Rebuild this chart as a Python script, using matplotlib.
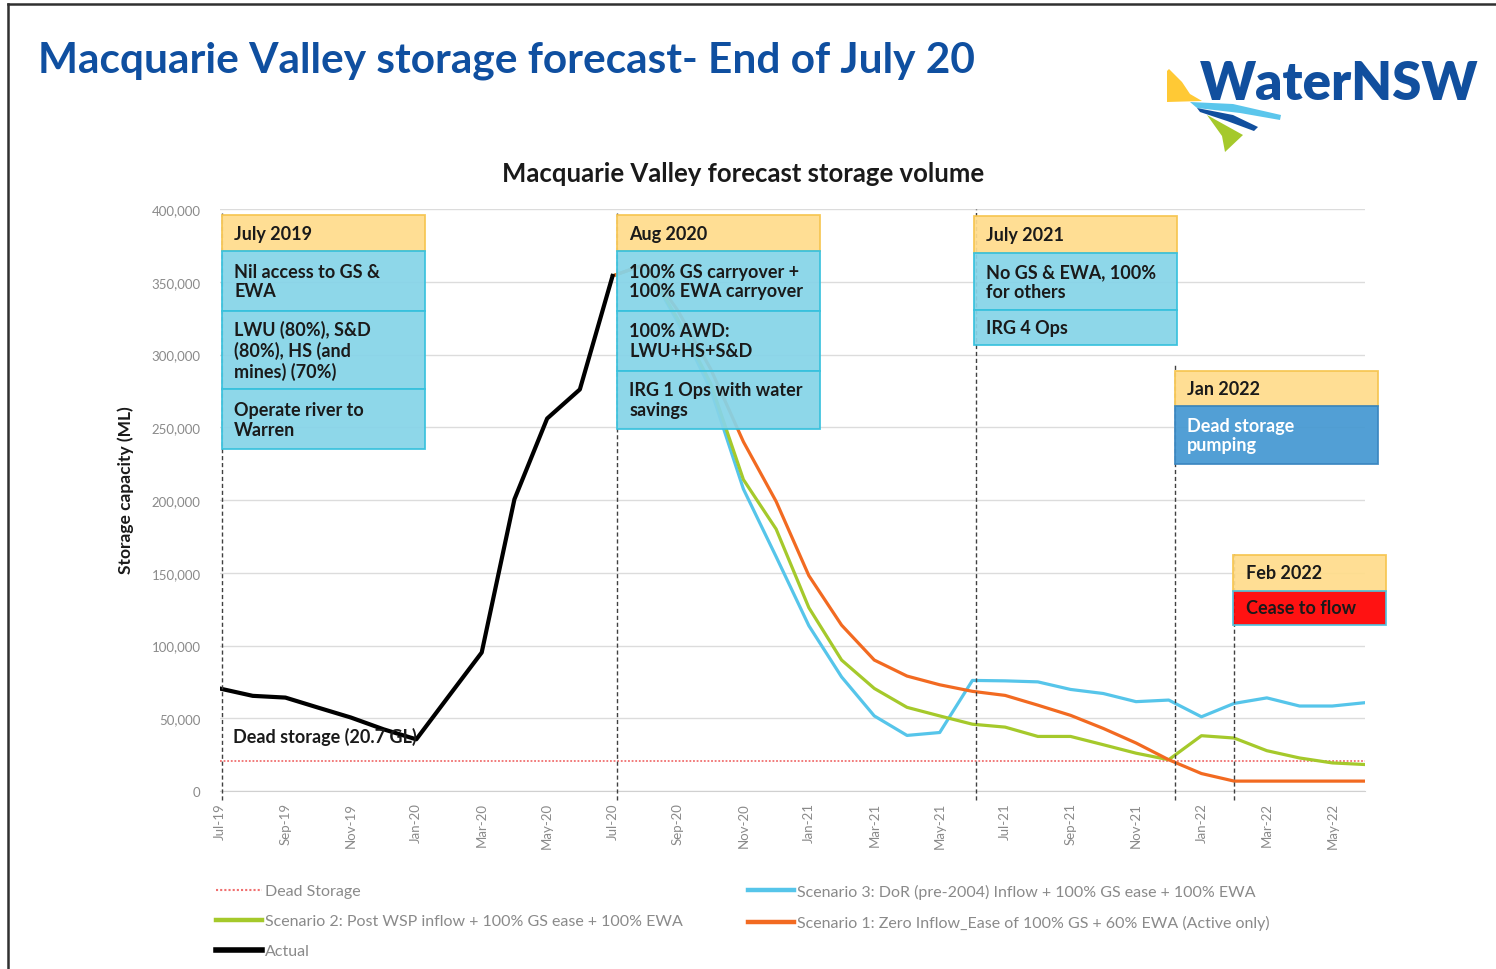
import matplotlib.pyplot as plt
from matplotlib.patches import Rectangle, Polygon
from matplotlib.lines import Line2D

plt.rcParams['font.family'] = ['Lato', 'DejaVu Sans']

W, H = 1496, 970

# month labels, Jul-19 .. Jun-22
months = ['Jul-19', 'Aug-19', 'Sep-19', 'Oct-19', 'Nov-19', 'Dec-19',
          'Jan-20', 'Feb-20', 'Mar-20', 'Apr-20', 'May-20', 'Jun-20',
          'Jul-20', 'Aug-20', 'Sep-20', 'Oct-20', 'Nov-20', 'Dec-20',
          'Jan-21', 'Feb-21', 'Mar-21', 'Apr-21', 'May-21', 'Jun-21',
          'Jul-21', 'Aug-21', 'Sep-21', 'Oct-21', 'Nov-21', 'Dec-21',
          'Jan-22', 'Feb-22', 'Mar-22', 'Apr-22', 'May-22', 'Jun-22']

# storage volume (ML)
actual = [70400, 65400, 64200, 57300, 50500, 42400, 35500, 65400, 95200,
          200500, 256000, 276000, 354000]
# forecasts start at Jul-20
scenario_1 = [354000, 362000, 330000, 290000, 240000, 199000, 148000, 114000,
              90000, 79000, 73000, 68500, 65700, 59000, 52000, 43000, 33000,
              21500, 12000, 6800, 6800, 6800, 6800, 6800]
scenario_2 = [354000, 362000, 324000, 280000, 214000, 180000, 126000, 90000,
              70500, 57500, 51600, 45900, 43900, 37500, 37500, 31800, 26000,
              21500, 38000, 36400, 27700, 22700, 19300, 18200]
scenario_3 = [354000, 362000, 322000, 276000, 207500, 161000, 113600, 78400,
              51600, 38200, 40200, 76000, 75700, 75000, 69800, 67000, 61400,
              62500, 51000, 60200, 64000, 58400, 58400, 60700]
dead_storage = 20700

fc_start = 12  # index of Jul-20

c_s1 = '#F26A21'
c_s2 = '#A5C92B'
c_s3 = '#56C5EA'
c_dead = '#F07070'
dotted = (0, (1, 1))

fig = plt.figure(figsize=(W / 100, H / 100), dpi=100)
ax = fig.add_axes([220 / W, 1 - 792 / H, (1365 - 220) / W, (792 - 210) / H])

x_act = list(range(len(actual)))
x_fc = list(range(fc_start, fc_start + len(scenario_1)))

ax.axhline(dead_storage, color=c_dead, lw=1.3, ls=dotted, zorder=2)
ax.plot(x_fc, scenario_3, color=c_s3, lw=2.3, zorder=3)
ax.plot(x_fc, scenario_2, color=c_s2, lw=2.3, zorder=3)
ax.plot(x_fc, scenario_1, color=c_s1, lw=2.3, zorder=3)
ax.plot(x_act, actual, color='black', lw=3, zorder=4)

ax.set_xlim(0, len(months) - 1)
ax.set_ylim(0, 400000)
ax.set_yticks(range(0, 400001, 50000))
ax.set_yticklabels([f'{v:,}' for v in range(0, 400001, 50000)])
ax.set_xticks(range(0, len(months), 2))
ax.set_xticklabels(months[::2], rotation=90)
ax.tick_params(axis='both', colors='#8a8a8a', labelsize=9.5, length=0)
ax.tick_params(axis='x', pad=8)
ax.tick_params(axis='y', pad=14)
ax.grid(axis='y', color='#dcdcdc', lw=1)
ax.set_axisbelow(True)
for s in ['left', 'right', 'top']:
    ax.spines[s].set_visible(False)
ax.spines['bottom'].set_color('#d0d0d0')

# event markers
event_x = [0.05, 12.15, 23.1, 29.2, 31.0]
event_top = [397000, 397000, 400000, 293000, 163000]
for ex, et in zip(event_x, event_top):
    ax.plot([ex, ex], [-6000, et], color='#404040', lw=1, ls=(0, (3, 2)),
            zorder=5, clip_on=False)


def cell(x0, x1, y_top, y_bot, text, face, edge, color='#1a1a1a'):
    ax.add_patch(Rectangle((x0, y_bot), x1 - x0, y_top - y_bot, facecolor=face,
                           edgecolor=edge, lw=1.3, zorder=6, clip_on=False,
                           alpha=0.93))
    ax.text(x0 + 0.37, (y_top + y_bot) / 2, text, ha='left', va='center',
            fontsize=13, fontweight='bold', color=color, zorder=7,
            clip_on=False, linespacing=1.2)


head_face, head_edge = '#FFDC8C', '#F6C550'
blue_face, blue_edge = '#86D4E8', '#36C1DD'

# July 2019
cell(0.06, 6.27, 396000, 371000, 'July 2019', head_face, head_edge)
cell(0.06, 6.27, 371000, 330000, 'Nil access to GS &\nEWA', blue_face, blue_edge)
cell(0.06, 6.27, 330000, 276000, 'LWU (80%), S&D\n(80%), HS (and\nmines) (70%)',
     blue_face, blue_edge)
cell(0.06, 6.27, 276000, 235000, 'Operate river to\nWarren', blue_face, blue_edge)
# Aug 2020
cell(12.14, 18.35, 396000, 371000, 'Aug 2020', head_face, head_edge)
cell(12.14, 18.35, 371000, 330000, '100% GS carryover +\n100% EWA carryover',
     blue_face, blue_edge)
cell(12.14, 18.35, 330000, 289000, '100% AWD:\nLWU+HS+S&D', blue_face, blue_edge)
cell(12.14, 18.35, 289000, 249000, 'IRG 1 Ops with water\nsavings',
     blue_face, blue_edge)
# July 2021
cell(23.06, 29.24, 395000, 370000, 'July 2021', head_face, head_edge)
cell(23.06, 29.24, 370000, 330500, 'No GS & EWA, 100%\nfor others',
     blue_face, blue_edge)
cell(23.06, 29.24, 330500, 306500, 'IRG 4 Ops', blue_face, blue_edge)
# Jan 2022
cell(29.2, 35.4, 288700, 264600, 'Jan 2022', head_face, head_edge)
cell(29.2, 35.4, 264600, 224700, 'Dead storage\npumping', '#4598D2', '#3A86C0',
     color='white')
# Feb 2022
cell(30.98, 35.63, 162200, 137500, 'Feb 2022', head_face, head_edge)
cell(30.98, 35.63, 137500, 114100, 'Cease to flow', '#FF0000', '#4FC3DE')

ax.text(0.4, 38000, 'Dead storage (20.7 GL)', fontsize=13, fontweight='bold',
        color='#1a1a1a', va='center', ha='left', zorder=8)

# titles
fig.text(38 / W, 1 - 61 / H, 'Macquarie Valley storage forecast- End of July 20',
         fontsize=30.5, fontweight='bold', color='#0F4FA0', va='center',
         ha='left')
fig.text(743 / W, 1 - 174 / H, 'Macquarie Valley forecast storage volume',
         fontsize=18.5, fontweight='bold', color='#1a1a1a', va='center',
         ha='center')
fig.text(126 / W, 1 - 490 / H, 'Storage capacity (ML)', fontsize=12.5,
         fontweight='bold', color='#1a1a1a', rotation=90, va='center',
         ha='center')

# legend, two blocks
legend_left = [
    ('Dead Storage', c_dead, 1.5, dotted),
    ('Scenario 2: Post WSP inflow + 100% GS ease + 100% EWA', c_s2, 3.2, '-'),
    ('Actual', 'black', 4, '-'),
]
legend_right = [
    ('Scenario 3: DoR (pre-2004) Inflow + 100% GS ease + 100% EWA', c_s3, 3.2,
     '-'),
    ('Scenario 1: Zero Inflow_Ease of 100% GS + 60% EWA (Active only)', c_s1,
     3.2, '-'),
]
for entries, x0 in [(legend_left, 216), (legend_right, 748)]:
    handles = [Line2D([], [], color=c, lw=lw, ls=ls) for _, c, lw, ls in entries]
    fig.legend(handles, [e[0] for e in entries], loc='upper left',
               bbox_to_anchor=(x0 / W, 1 - 885 / H), frameon=False,
               fontsize=11.5, labelcolor='#8a8a8a', handlelength=2.9,
               handletextpad=0.15, labelspacing=1.0, borderpad=0,
               borderaxespad=0)


# WaterNSW logo
def px(pts):
    return [(x / W, 1 - y / H) for x, y in pts]


logo_shapes = [
    ([(1167, 72), (1169, 70), (1182, 83), (1190, 95), (1202, 102), (1167, 103)],
     '#FFC935'),
    ([(1190, 103), (1233, 105), (1281, 116), (1280, 121), (1240, 114),
      (1197, 109)], '#5BC6EC'),
    ([(1197, 109), (1233, 116), (1258, 128), (1254, 132), (1227, 122),
      (1200, 113)], '#114F9E'),
    ([(1207, 116), (1243, 136), (1225, 153), (1222, 137)], '#A5C92B'),
]
for pts, col in logo_shapes:
    fig.add_artist(Polygon(px(pts), closed=True, facecolor=col, edgecolor='none',
                           transform=fig.transFigure))
fig.text(1200 / W, 1 - 84 / H, 'WaterNSW', fontsize=38, fontweight='heavy',
         color='#114F9E', va='center', ha='left')

# slide frame
fig.add_artist(Line2D([8 / W, 8 / W], [0, 1 - 5 / H], color='#303030', lw=1.8,
                      transform=fig.transFigure))
fig.add_artist(Line2D([8 / W, 1], [1 - 5 / H, 1 - 5 / H], color='#303030',
                      lw=1.8, transform=fig.transFigure))

fig.savefig('out.png', dpi=100)
